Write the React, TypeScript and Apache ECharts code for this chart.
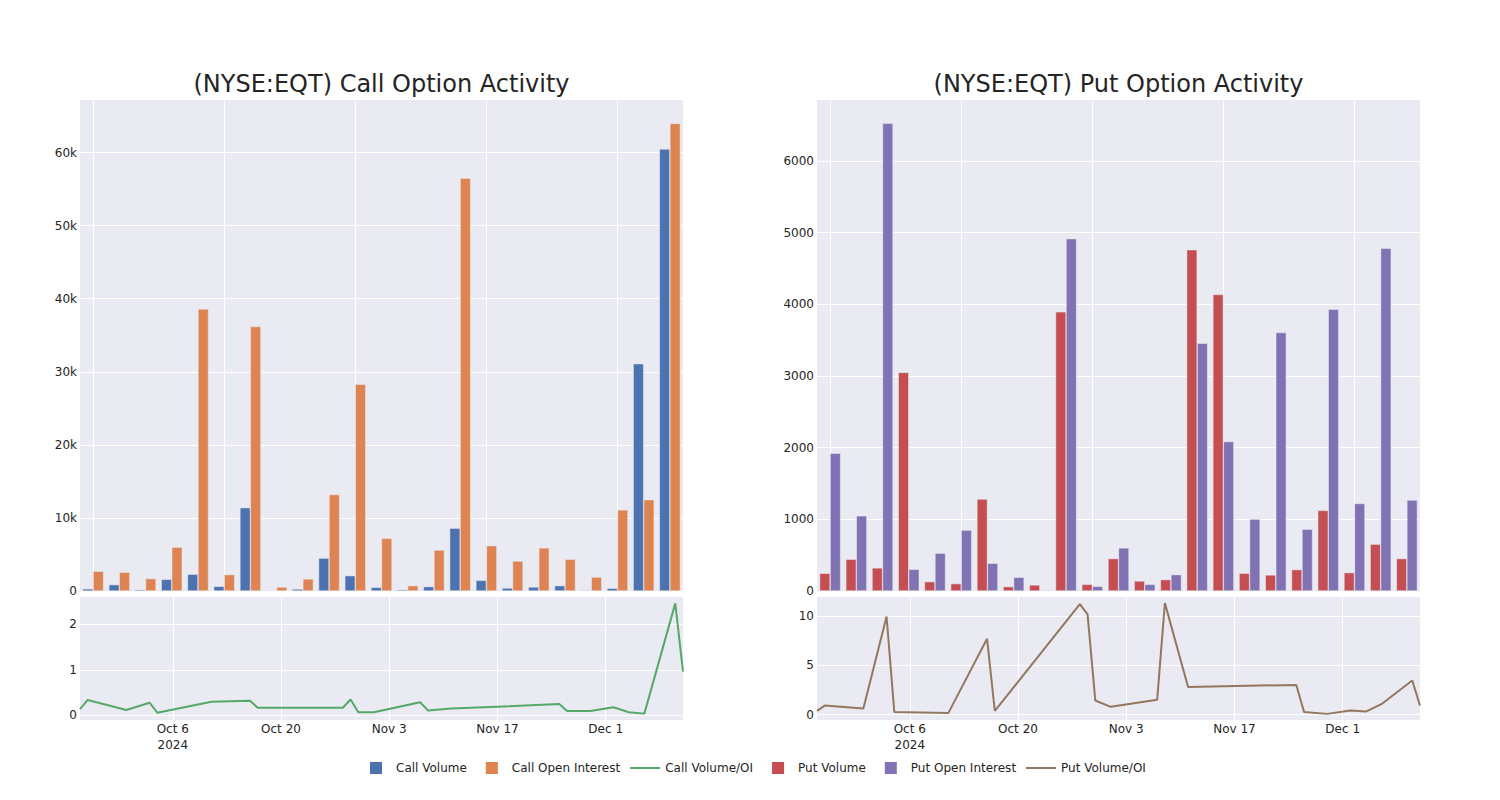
import React, { useEffect, useRef } from "react";
import * as echarts from "echarts";

const dates = [
  "2024-09-24", "2024-09-25", "2024-09-30", "2024-10-03", "2024-10-04", "2024-10-11",
  "2024-10-16", "2024-10-17", "2024-10-28", "2024-10-29", "2024-10-30", "2024-11-01",
  "2024-11-07", "2024-11-08", "2024-11-11", "2024-11-25", "2024-11-26", "2024-11-29",
  "2024-12-02", "2024-12-04", "2024-12-06", "2024-12-10", "2024-12-11",
];

const callVolume = [300, 870, 180, 1600, 2300, 640, 11400, 50, 270, 4500, 2100, 500, 180, 600, 8600, 1460, 400, 550, 730, 100, 370, 31100, 60500];
const callOpenInterest = [2700, 2560, 1700, 6000, 38600, 2240, 36200, 550, 1650, 13200, 28300, 7200, 730, 5600, 56500, 6200, 4100, 5900, 4350, 1900, 11100, 12500, 64000];
const callRatio = [0.14, 0.34, 0.12, 0.28, 0.06, 0.30, 0.32, 0.17, 0.17, 0.35, 0.07, 0.07, 0.29, 0.11, 0.15, 0.25, 0.10, 0.10, 0.18, 0.07, 0.04, 2.46, 0.96];

const putVolume = [247, 443, 322, 3049, 130, 103, 1282, 61, 84, 3893, 93, 452, 140, 159, 4760, 4135, 247, 224, 298, 1124, 256, 653, 452];
const putOpenInterest = [1921, 1049, 6522, 303, 527, 849, 387, 191, 10, 4914, 65, 601, 93, 228, 3455, 2084, 1002, 3604, 862, 3930, 1221, 4779, 1268];
const putRatio = [0.37, 0.91, 0.61, 9.93, 0.27, 0.17, 7.67, 0.37, 11.18, 10.14, 1.42, 0.78, 1.49, 11.28, 2.8, 3.0, 0.27, 0.07, 0.41, 0.3, 1.05, 3.45, 0.91];

const dateTicks = ["2024-10-06", "2024-10-20", "2024-11-03", "2024-11-17", "2024-12-01"];
const barGridCats = [0, 5, 10, 15, 20];
const callBarTicks = [0, 10000, 20000, 30000, 40000, 50000, 60000];
const putBarTicks = [0, 1000, 2000, 3000, 4000, 5000, 6000];
const callRatioTicks = [0, 1, 2];
const putRatioTicks = [0, 5, 10];

const titles = ["(NYSE:EQT) Call Option Activity", "(NYSE:EQT) Put Option Activity"];
const months = ["Jan", "Feb", "Mar", "Apr", "May", "Jun", "Jul", "Aug", "Sep", "Oct", "Nov", "Dec"];

const ts = (s: string) => {
  const [y, m, d] = s.split("-").map(Number);
  return Date.UTC(y, m - 1, d);
};

const FONT = "DejaVu Sans";
const TXT = "#242424";
const BG = "#EAEAF2";

export default function App() {
  const ref = useRef<HTMLDivElement>(null);
  useEffect(() => {
    document.body.style.margin = "0";
    const chart = echarts.init(ref.current!, null, { renderer: "svg" });
    const tickTs = dateTicks.map(ts);
    const firstTick = tickTs[0];
    const dateFmt = (v: number) => {
      const d = new Date(v);
      const s = months[d.getUTCMonth()] + " " + d.getUTCDate();
      return Math.abs(v - firstTick) < 1000 ? s + "\n" + d.getUTCFullYear() : s;
    };
    const kFmt = (v: number) => (v === 0 ? "0" : v / 1000 + "k");
    const plainFmt = (v: number) => String(v);
    const yLabel = { fontFamily: FONT, fontSize: 12, color: TXT, margin: 3 };
    const splitWhite = { show: true, lineStyle: { color: "#ffffff", width: 1 } };

    const gridL = 80, gridR = 817, gw = 603;
    const grids = [
      { left: gridL, top: 100, width: gw, height: 491 },
      { left: gridL, top: 597, width: gw, height: 123 },
      { left: gridR, top: 100, width: gw, height: 491 },
      { left: gridR, top: 597, width: gw, height: 123 },
    ].map((g) => ({ ...g, show: true, backgroundColor: BG, borderWidth: 0, containLabel: false }));

    const catAxis = (gi: number) => ({
      type: "category",
      gridIndex: gi,
      data: dates,
      axisLabel: { show: false },
      axisTick: { show: false },
      axisLine: { show: false },
      splitLine: { show: false },
    });
    const dateAxis = (gi: number) => ({
      type: "value",
      gridIndex: gi,
      min: ts(dates[0]),
      max: ts(dates[dates.length - 1]),
      axisLabel: {
        customValues: tickTs,
        formatter: dateFmt,
        fontFamily: FONT,
        fontSize: 12,
        color: TXT,
        margin: 1,
        lineHeight: 16,
      },
      axisTick: { show: false, customValues: tickTs },
      axisLine: { show: false },
      splitLine: splitWhite,
    });
    const valAxis = (gi: number, min: number, max: number, ticks: number[], fmt: (v: number) => string) => ({
      type: "value",
      gridIndex: gi,
      min,
      max,
      axisLabel: { ...yLabel, customValues: ticks, formatter: fmt },
      axisTick: { show: false, customValues: ticks },
      axisLine: { show: false },
      splitLine: splitWhite,
    });

    const gridSeries = (xi: number) => ({
      name: "_vgrid" + xi,
      type: "line",
      xAxisIndex: xi,
      yAxisIndex: xi,
      data: [],
      silent: true,
      z: 1,
      markLine: {
        silent: true,
        z: 1,
        symbol: ["none", "none"],
        label: { show: false },
        lineStyle: { color: "#ffffff", width: 1, type: "solid" },
        emphasis: { disabled: true },
        animation: false,
        data: barGridCats.map((i) => ({ xAxis: dates[i] })),
      },
    });

    const barStyle = (color: string) => ({ color, borderColor: BG, borderWidth: 0.5 });
    // icons span the full 30x12 legend box (degenerate corner points) so every item has the same box width
    const sqIcon = "path://M0 0L0 0M9 0H21V12H9ZM30 12L30 12";
    const lineIcon = "path://M0 0L0 0M0 5H30V7H0ZM30 12L30 12";

    const option: any = {
      animation: false,
      backgroundColor: "#ffffff",
      textStyle: { fontFamily: FONT },
      grid: grids,
      xAxis: [catAxis(0), dateAxis(1), catAxis(2), dateAxis(3)],
      yAxis: [
        valAxis(0, 0, 67200, callBarTicks, kFmt),
        valAxis(1, -0.1, 2.6, callRatioTicks, plainFmt),
        valAxis(2, 0, 6848, putBarTicks, plainFmt),
        valAxis(3, -0.55, 11.9, putRatioTicks, plainFmt),
      ],
      legend: {
        left: 361,
        top: 762,
        padding: 0,
        itemWidth: 30,
        itemHeight: 12,
        itemGap: 10,
        symbolKeepAspect: false,
        itemStyle: { borderWidth: 0 },
        textStyle: { fontFamily: FONT, fontSize: 12, color: TXT },
        data: [
          { name: "Call Volume", icon: sqIcon },
          { name: "Call Open Interest", icon: sqIcon },
          { name: "Call Volume/OI", icon: lineIcon },
          { name: "Put Volume", icon: sqIcon },
          { name: "Put Open Interest", icon: sqIcon },
          { name: "Put Volume/OI", icon: lineIcon },
        ],
      },
      graphic: titles.map((t, i) => ({
        type: "text",
        x: (i === 0 ? gridL : gridR) + gw / 2,
        y: 84,
        style: {
          text: t,
          font: `24px "${FONT}"`,
          fill: TXT,
          align: "center",
          verticalAlign: "middle",
        },
      })),
      series: [
        gridSeries(0),
        gridSeries(2),
        {
          name: "Call Volume",
          type: "bar",
          xAxisIndex: 0,
          yAxisIndex: 0,
          data: callVolume,
          barGap: "0%",
          barCategoryGap: "20%",
          itemStyle: barStyle("#4C72B0"),
        },
        {
          name: "Call Open Interest",
          type: "bar",
          xAxisIndex: 0,
          yAxisIndex: 0,
          data: callOpenInterest,
          barGap: "0%",
          barCategoryGap: "20%",
          itemStyle: barStyle("#DD8452"),
        },
        {
          name: "Call Volume/OI",
          type: "line",
          xAxisIndex: 1,
          yAxisIndex: 1,
          data: dates.map((d, i) => [ts(d), callRatio[i]]),
          symbol: "none",
          lineStyle: { color: "#55A868", width: 2 },
          itemStyle: { color: "#55A868" },
        },
        {
          name: "Put Volume",
          type: "bar",
          xAxisIndex: 2,
          yAxisIndex: 2,
          data: putVolume,
          barGap: "0%",
          barCategoryGap: "20%",
          itemStyle: barStyle("#C44E52"),
        },
        {
          name: "Put Open Interest",
          type: "bar",
          xAxisIndex: 2,
          yAxisIndex: 2,
          data: putOpenInterest,
          barGap: "0%",
          barCategoryGap: "20%",
          itemStyle: barStyle("#8172B3"),
        },
        {
          name: "Put Volume/OI",
          type: "line",
          xAxisIndex: 3,
          yAxisIndex: 3,
          data: dates.map((d, i) => [ts(d), putRatio[i]]),
          symbol: "none",
          lineStyle: { color: "#937860", width: 2 },
          itemStyle: { color: "#937860" },
        },
      ],
    };
    chart.setOption(option);
    return () => chart.dispose();
  }, []);
  return <div ref={ref} style={{ width: 1500, height: 800 }} />;
}
